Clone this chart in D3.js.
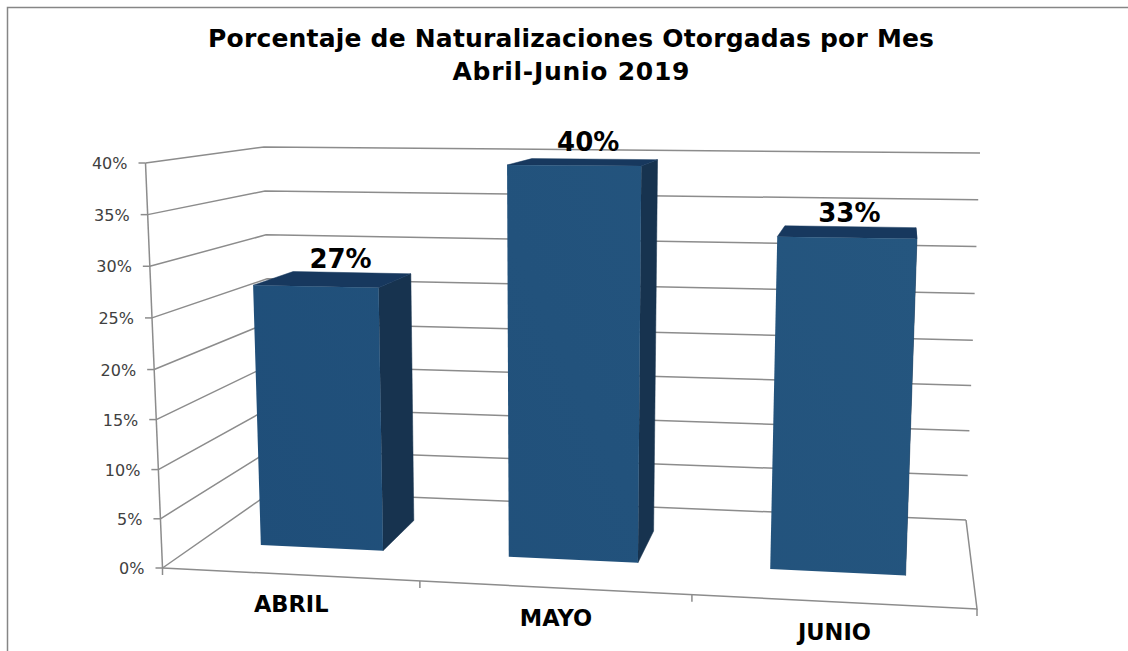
<!DOCTYPE html>
<html>
<head>
<meta charset="utf-8">
<script src="https://cdn.jsdelivr.net/npm/d3@7"></script>
<style>
  html, body { margin: 0; padding: 0; background: #fff; overflow: hidden; }
  svg { display: block; font-family: "DejaVu Sans", sans-serif; }
</style>
</head>
<body>
<svg></svg>
<script>
const months = ["ABRIL", "MAYO", "JUNIO"];
const percents = [27.1, 39.5, 32.8];
const valueTicks = [0, 5, 10, 15, 20, 25, 30, 35, 40];
const titleLines = ["Porcentaje de Naturalizaciones Otorgadas por Mes", "Abril-Junio 2019"];

const svg = d3.select("svg")
    .attr("width", 1128)
    .attr("height", 651);

// corners of the 3d box as they land on screen
const box = {
    frontBottom: [[162.5, 568], [977, 609]],
    backBottom: [[272, 491.5], [966, 520]],
    frontTop: [[145.5, 163], [995, 169]],
    backTop: [[264, 147], [980, 153]]
};

const mix = (a, b, t) => [a[0] + (b[0] - a[0]) * t, a[1] + (b[1] - a[1]) * t];

// the perspective is not even, so both axes bend a little
const across = d3.scaleLinear().domain([0, 1 / 3, 2 / 3, 1]).range([0, 0.316, 0.65, 1]);
const up = d3.scaleLinear().domain([0, 10, 20, 30, 40]).range([0, 0.243, 0.49, 0.745, 1]);

// u: 0-1 along the categories, value: percent, w: 0 front to 1 back
function project(u, value, w) {
    const t = across(u), v = up(value);
    const bottom = mix(mix(...box.frontBottom, t), mix(...box.backBottom, t), w);
    const top = mix(mix(...box.frontTop, t), mix(...box.backTop, t), w);
    return mix(bottom, top, v);
}

const x = d3.scaleBand()
    .domain(months)
    .range([0, 1])
    .paddingInner(0.5)
    .paddingOuter(0.25);

const barFront = 0.34, barBack = 0.72;
const line = d3.line();
const axisColor = "#8c8c8c", axisWidth = 1.5;

const grad = svg.append("defs").append("linearGradient")
    .attr("id", "front")
    .attr("gradientUnits", "userSpaceOnUse")
    .attr("x1", 250).attr("y1", 550)
    .attr("x2", 920).attr("y2", 240);
grad.append("stop").attr("offset", 0).attr("stop-color", "#1f4e79");
grad.append("stop").attr("offset", 1).attr("stop-color", "#25567f");

// frame, only top and left show in the window
svg.append("path")
    .attr("d", line([[7.5, 651], [7.5, 7.5], [1128, 7.5]]))
    .attr("fill", "none")
    .attr("stroke", "#868686")
    .attr("stroke-width", 1.5);

// gridlines on left and back walls
svg.selectAll(".grid")
    .data(valueTicks)
    .enter().append("path")
    .attr("class", "grid")
    .attr("d", d => line([project(0, d, 0), project(0, d, 1), project(1, d, 1)]))
    .attr("fill", "none")
    .attr("stroke", axisColor)
    .attr("stroke-width", axisWidth);

// value axis and ticks
svg.append("path")
    .attr("d", line([project(0, 0, 0), project(0, 40, 0)]))
    .attr("stroke", axisColor)
    .attr("stroke-width", axisWidth);

svg.selectAll(".tick")
    .data(valueTicks)
    .enter().append("path")
    .attr("class", "tick")
    .attr("d", d => {
        const p = project(0, d, 0);
        return line([p, [p[0] - 7, p[1]]]);
    })
    .attr("stroke", axisColor)
    .attr("stroke-width", axisWidth);

svg.selectAll(".tick-label")
    .data(valueTicks)
    .enter().append("text")
    .attr("class", "tick-label")
    .attr("x", d => project(0, d, 0)[0] - 18)
    .attr("y", d => project(0, d, 0)[1] + 6)
    .attr("text-anchor", "end")
    .attr("font-size", 16)
    .attr("fill", "#404040")
    .text(d => d + "%");

// floor edges
svg.append("path")
    .attr("d", line([project(0, 0, 0), project(1, 0, 0), project(1, 0, 1)]))
    .attr("fill", "none")
    .attr("stroke", axisColor)
    .attr("stroke-width", axisWidth);

svg.selectAll(".cat-tick")
    .data([0, 1 / 3, 2 / 3, 1])
    .enter().append("path")
    .attr("class", "cat-tick")
    .attr("d", d => {
        const p = project(d, 0, 0);
        return line([p, [p[0], p[1] + 7]]);
    })
    .attr("stroke", axisColor)
    .attr("stroke-width", axisWidth);

// bars
const barData = months.map((m, i) => ({month: m, value: percents[i]}));

const bars = svg.selectAll(".bar")
    .data(barData)
    .enter().append("g")
    .attr("class", "bar");

bars.append("path")
    .attr("d", d => {
        const r = x(d.month) + x.bandwidth();
        return line([project(r, 0, barFront), project(r, 0, barBack), project(r, d.value, barBack), project(r, d.value, barFront)]) + "Z";
    })
    .attr("fill", "#17334f")
    .attr("stroke", "#17334f")
    .attr("stroke-width", 0.5);

bars.append("path")
    .attr("d", d => {
        const l = x(d.month), r = l + x.bandwidth();
        return line([project(l, d.value, barFront), project(l, d.value, barBack), project(r, d.value, barBack), project(r, d.value, barFront)]) + "Z";
    })
    .attr("fill", "#17385e")
    .attr("stroke", "#17385e")
    .attr("stroke-width", 0.5);

bars.append("path")
    .attr("d", d => {
        const l = x(d.month), r = l + x.bandwidth();
        return line([project(l, 0, barFront), project(r, 0, barFront), project(r, d.value, barFront), project(l, d.value, barFront)]) + "Z";
    })
    .attr("fill", "url(#front)");

// data labels, the tallest one sits a bit higher
svg.selectAll(".value-label")
    .data(barData)
    .enter().append("text")
    .attr("class", "value-label")
    .attr("x", d => project(x(d.month) + x.bandwidth() / 2, d.value, 0.6)[0])
    .attr("y", d => project(x(d.month) + x.bandwidth() / 2, d.value, barBack)[1] - (d.month === "MAYO" ? 8 : 5))
    .attr("text-anchor", "middle")
    .attr("font-size", 26)
    .attr("font-weight", "bold")
    .attr("fill", "#000")
    .text(d => Math.round(d.value) + "%");

// category labels
svg.selectAll(".cat-label")
    .data(months)
    .enter().append("text")
    .attr("class", "cat-label")
    .attr("x", d => project(x(d) + x.bandwidth() / 2, 0, 0)[0])
    .attr("y", d => project(x(d) + x.bandwidth() / 2, 0, 0)[1] + 38)
    .attr("text-anchor", "middle")
    .attr("font-size", 22.5)
    .attr("font-weight", "bold")
    .attr("fill", "#000")
    .text(d => d);

// title
svg.selectAll(".title")
    .data(titleLines)
    .enter().append("text")
    .attr("class", "title")
    .attr("x", 571)
    .attr("y", (d, i) => 47 + i * 33)
    .attr("text-anchor", "middle")
    .attr("font-size", 25)
    .attr("font-weight", "bold")
    .attr("textLength", (d, i) => [726, 237][i])
    .attr("fill", "#000")
    .text(d => d);
</script>
</body>
</html>
